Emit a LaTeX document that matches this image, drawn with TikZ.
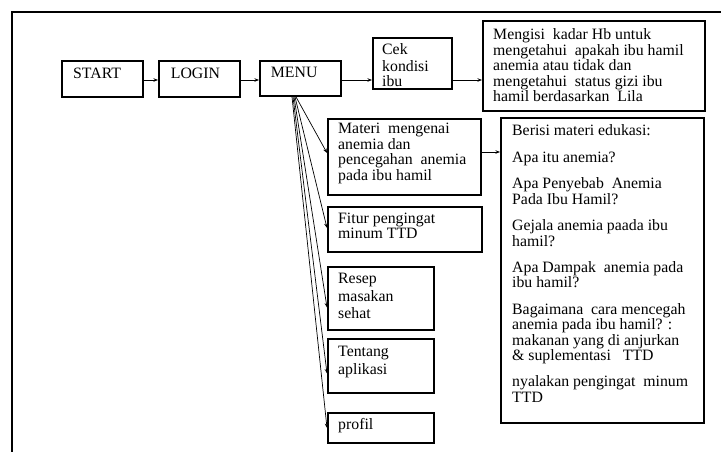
\documentclass[tikz,border=0pt]{standalone}
\usepackage{fontspec}
\setmainfont{Liberation Serif}
\usetikzlibrary{arrows.meta}
\begin{document}
\begin{tikzpicture}[x=1pt,y=-1pt,
  box/.style={draw, line width=1.9pt, inner sep=0pt, anchor=north west},
  txt/.style={anchor=north west, inner sep=0pt, align=left, font=\fontsize{15.8}{15.2}\selectfont},
  arr/.style={line width=0.7pt, -{Stealth[length=4.5pt,width=3.5pt]}}]
\useasboundingbox (0,0) rectangle (721,452);
\draw[line width=1.8pt] (12,452) -- (12,12) -- (721,12);
% boxes
\node[box, minimum width=81pt, minimum height=36pt] (start) at (61,60) {};
\node[box, minimum width=81pt, minimum height=36pt] (login) at (158,60) {};
\node[box, minimum width=81pt, minimum height=35pt] (menu) at (259,60) {};
\node[box, minimum width=79pt, minimum height=51pt] (cek) at (372,37) {};
\node[box, minimum width=222pt, minimum height=90pt] (mengisi) at (482,20) {};
\node[box, minimum width=153pt, minimum height=76pt] (materi) at (327,118) {};
\node[box, minimum width=203pt, minimum height=305pt] (berisi) at (500,117) {};
\node[box, minimum width=154pt, minimum height=45pt] (fitur) at (327,206) {};
\node[box, minimum width=106pt, minimum height=63pt] (resep) at (327,266) {};
\node[box, minimum width=106pt, minimum height=54pt] (tentang) at (327,338) {};
\node[box, minimum width=106pt, minimum height=30pt] (profil) at (327,412) {};
% texts
\node[txt] (startT) at (73,67.7) {\strut START};
\node[txt] (loginT) at (170.7,67.7) {\strut LOGIN};
\node[txt] (menuT) at (270.7,66.4) {\strut MENU};
\node[txt] (cekT) at (382,43.7) {\strut Cek\\kondisi\\ibu};
\node[txt] (mengisiT) at (493,28) {\strut Mengisi\ \ kadar Hb untuk\\mengetahui\ \ apakah ibu hamil\\anemia atau tidak dan\\mengetahui\ \ status gizi ibu\\hamil berdasarkan\ \ Lila};
\node[txt] (materiT) at (338,122.4) {\strut Materi\ \ mengenai\\anemia dan\\pencegahan\ \ anemia\\pada ibu hamil};
\node[txt] (fiturT) at (338,212.4) {\strut Fitur pengingat\\minum TTD};
\node[txt] (resepT) at (338,272.4) {\strut Resep\\[1.6pt]masakan\\[1.6pt]sehat};
\node[txt] (tentangT) at (338,346) {\strut Tentang\\[1pt]aplikasi};
\node[txt] (profilT) at (338,418.4) {\strut profil};
\node[txt] (berisiT) at (512,124.4) {\strut Berisi materi edukasi:\\[11.5pt]Apa itu anemia?\\[11.5pt]Apa Penyebab\ \ Anemia\\Pada Ibu Hamil?\\[11.5pt]Gejala anemia paada ibu\\hamil?\\[11.5pt]Apa Dampak\ \ anemia pada\\ibu hamil?\\[11.5pt]Bagaimana\ \ cara mencegah\\anemia pada ibu hamil? :\\makanan yang di anjurkan\\\& suplementasi\ \ \ TTD\\[11.5pt]nyalakan pengingat\ \ minum\\TTD};
% connectors
\coordinate (row) at (0,80);
\coordinate (row2) at (0,152);
\draw[arr] (start.east |- row) -- (login.west |- row);
\draw[arr] (login.east |- row) -- (menu.west |- row);
\draw[arr] (menu.east |- row) -- (cek.west |- row);
\draw[arr] (cek.east |- row) -- (mengisi.west |- row);
\draw[arr] (materi.east |- row2) -- (berisi.west |- row2);
\draw[arr] ([xshift=37pt]menu.south west) -- ([yshift=4pt]materi.west);
\draw[arr] ([xshift=36pt]menu.south west) -- ([yshift=1.5pt]fitur.west);
\draw[arr] ([xshift=35pt]menu.south west) -- ([yshift=-9pt]resep.west);
\draw[arr] ([xshift=34pt]menu.south west) -- ([yshift=-7.5pt]tentang.west);
\draw[arr] ([xshift=33pt]menu.south west) -- (profil.west);
\end{tikzpicture}
\end{document}
